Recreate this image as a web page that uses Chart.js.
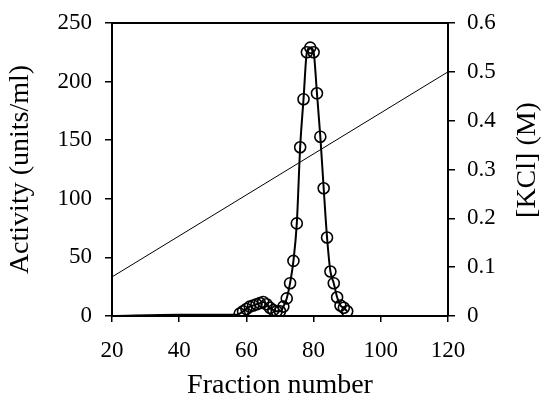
<!DOCTYPE html>
<html>
<head>
<meta charset="utf-8">
<script src="https://cdn.jsdelivr.net/npm/chart.js@4"></script>
<style>
  html, body { margin: 0; padding: 0; background: #fff; }
  #wrap { width: 545px; height: 396px; }
</style>
</head>
<body>
<div id="wrap"><canvas id="fracChart"></canvas></div>
<script>
// activity profile (units/ml) per fraction
const fractions = [20, 40, 57, 58, 59, 60, 61, 62, 63, 64, 65, 66, 67, 68, 69, 70,
  71, 72, 73, 74, 75, 76, 77, 78, 79, 80, 81, 82, 83, 84, 85, 86, 87, 88, 89, 90];
const activity = [0, 1, 1, 2, 4, 6, 8, 9, 10, 11, 12, 10, 7, 5, 4, 4,
  8, 15, 28, 47, 79, 144, 185, 225, 229, 225, 190, 153, 109, 67, 38, 28, 16, 9, 7, 4];
// points without a marker (baseline before the eluted fractions)
const noMarker = [20, 40, 57];

// KCl gradient (M)
const kclFractions = [20, 120];
const kclConc = [0.08, 0.5];

const xTicks = [20, 40, 60, 80, 100, 120];

const serif = "'Liberation Serif', 'Times New Roman', serif";

const activityPts = fractions.map((f, i) => ({ x: f, y: activity[i] }));
const kclPts = kclFractions.map((f, i) => ({ x: f, y: kclConc[i] }));
const radii = fractions.map(f => noMarker.includes(f) ? 0 : 5.5);

// top frame line + right axis title (reads bottom to top like the left one)
const frame = {
  id: "frame",
  afterDraw(chart) {
    const { ctx, chartArea } = chart;
    ctx.save();
    ctx.strokeStyle = "#000";
    ctx.lineWidth = 2;
    ctx.beginPath();
    ctx.moveTo(chartArea.left, chartArea.top);
    ctx.lineTo(chartArea.right, chartArea.top);
    ctx.stroke();

    ctx.translate(chartArea.right + 80, chartArea.top + 137);
    ctx.rotate(-Math.PI / 2);
    ctx.fillStyle = "#000";
    ctx.font = "28px " + serif;
    ctx.textAlign = "center";
    ctx.textBaseline = "middle";
    ctx.fillText("[KCl] (M)", 0, 0);
    ctx.restore();
  }
};

function fitSide(width) {
  return s => {
    s.width = width;
    s.paddingTop = 0;
    s.paddingBottom = 0;
  };
}

new Chart(document.getElementById("fracChart"), {
  type: "scatter",
  data: {
    datasets: [
      {
        data: kclPts,
        yAxisID: "y2",
        showLine: true,
        borderColor: "#000",
        borderWidth: 1,
        pointRadius: 0,
        fill: false
      },
      {
        data: activityPts,
        yAxisID: "y",
        showLine: true,
        borderColor: "#000",
        borderWidth: 2,
        tension: 0.35,
        cubicInterpolationMode: "monotone",
        pointRadius: radii,
        pointBorderColor: "#000",
        pointBorderWidth: 1.6,
        pointBackgroundColor: "rgba(0,0,0,0)",
        fill: false
      }
    ]
  },
  options: {
    responsive: true,
    maintainAspectRatio: false,
    animation: false,
    layout: { padding: { top: 23, right: 0, bottom: 0, left: 0 } },
    plugins: { legend: { display: false }, tooltip: { enabled: false } },
    scales: {
      x: {
        type: "linear",
        min: 20,
        max: 120,
        afterBuildTicks: s => { s.ticks = xTicks.map(v => ({ value: v })); },
        afterFit: s => { s.height = 80; s.paddingLeft = 0; s.paddingRight = 0; },
        ticks: { color: "#000", font: { family: serif, size: 23 }, padding: 15 },
        grid: { drawOnChartArea: false, drawTicks: true, tickLength: 6, color: "#000", lineWidth: 1.5 },
        border: { display: true, color: "#000", width: 2 },
        title: { display: true, text: "Fraction number", color: "#000",
          font: { family: serif, size: 28, lineHeight: 0.75 }, padding: { top: 0, bottom: 0 } }
      },
      y: {
        position: "left",
        min: 0,
        max: 250,
        ticks: { stepSize: 50, color: "#000", font: { family: serif, size: 23 }, padding: 13 },
        afterFit: fitSide(112),
        grid: { drawOnChartArea: false, drawTicks: true, tickLength: 7, color: "#000", lineWidth: 1.5 },
        border: { display: true, color: "#000", width: 2 },
        title: { display: true, text: "Activity (units/ml)", color: "#000",
          font: { family: serif, size: 28 }, padding: { top: 4, bottom: 0 } }
      },
      y2: {
        position: "right",
        min: 0,
        max: 0.6,
        ticks: { stepSize: 0.1, color: "#000", font: { family: serif, size: 23 }, padding: 12,
          callback: v => (Math.round(v * 10) / 10).toString() },
        afterFit: fitSide(97),
        grid: { drawOnChartArea: false, drawTicks: true, tickLength: 7, color: "#000", lineWidth: 1.5 },
        border: { display: true, color: "#000", width: 2 },
        title: { display: false }
      }
    }
  },
  plugins: [frame]
});
</script>
</body>
</html>
